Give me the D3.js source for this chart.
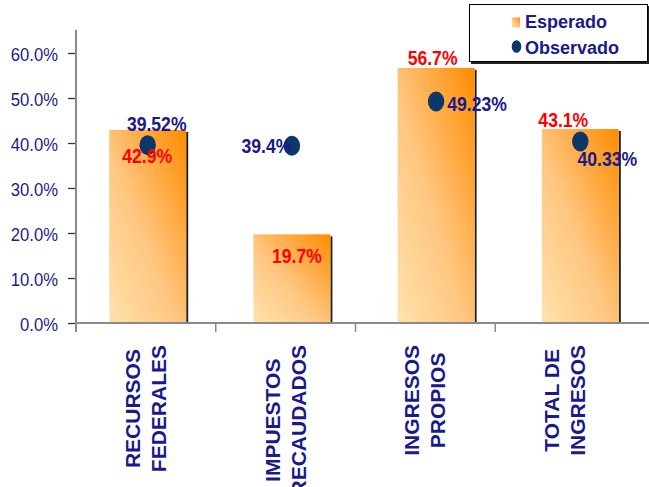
<!DOCTYPE html>
<html>
<head>
<meta charset="utf-8">
<script src="https://cdn.jsdelivr.net/npm/d3@7"></script>
<style>
  html, body { margin: 0; padding: 0; background: #fff; }
  svg { display: block; font-family: "Liberation Sans", Arial, sans-serif; }
</style>
</head>
<body>
<svg id="chart" width="649" height="487"></svg>
<script>
// ---- data ----
const categories = [["RECURSOS", "FEDERALES"], ["IMPUESTOS", "RECAUDADOS"], ["INGRESOS", "PROPIOS"], ["TOTAL DE", "INGRESOS"]];
const esperado = [42.9, 19.7, 56.7, 43.1];
const observado = [39.52, 39.4, 49.23, 40.33];
const esperadoLabels = ["42.9%", "19.7%", "56.7%", "43.1%"];
const observadoLabels = ["39.52%", "39.4%", "49.23%", "40.33%"];
const yTicks = [0, 10, 20, 30, 40, 50, 60];
const seriesNames = ["Esperado", "Observado"];

// ---- layout config (label offsets relative to mark) ----
const espOffset = [[-0.5, 33], [5, 29], [-3.5, -3], [-17, -2]];
const obsOffset = [[9, -14], [-25.5, 7], [41, 9.5], [27, 24.5]];

const navy = "#1a1a8a";
const red = "#ff0000";
const dotColor = "#0b3868";

const svg = d3.select("#chart");
const keys = categories.map((c, i) => i);

const y = d3.scaleLinear().domain([0, 60]).range([323, 53]);
const xCat = d3.scaleBand().domain(keys).range([76, 635]);
const xBar = d3.scaleBand().domain(keys).range([42, 686]).paddingInner(0.466).paddingOuter(0.466);

// gradient
const defs = svg.append("defs");
const grad = defs.append("linearGradient").attr("id", "barGrad")
  .attr("x1", 0).attr("y1", 1).attr("x2", 1).attr("y2", 0);
grad.append("stop").attr("offset", "0%").attr("stop-color", "#ffe2ad");
grad.append("stop").attr("offset", "45%").attr("stop-color", "#ffc680");
grad.append("stop").attr("offset", "100%").attr("stop-color", "#ff8c00");

const filt = defs.append("filter").attr("id", "shadow").attr("x", "-5%").attr("y", "-5%").attr("width", "120%").attr("height", "130%");
filt.append("feOffset").attr("in", "SourceAlpha").attr("dx", 2).attr("dy", 2).attr("result", "off");
filt.append("feFlood").attr("flood-color", "#222").attr("result", "fl");
filt.append("feComposite").attr("in", "fl").attr("in2", "off").attr("operator", "in").attr("result", "sh");
const fm = filt.append("feMerge");
fm.append("feMergeNode").attr("in", "sh");
fm.append("feMergeNode").attr("in", "SourceGraphic");

// bars shadow edge
svg.append("g").selectAll("rect").data(esperado).join("rect")
  .attr("x", (d, i) => xBar(i) + xBar.bandwidth())
  .attr("y", d => y(d) + 2)
  .attr("width", 2)
  .attr("height", d => y(0) - y(d) - 2)
  .attr("fill", "#1e1e1e");

// bars
svg.append("g").selectAll("rect").data(esperado).join("rect")
  .attr("x", (d, i) => xBar(i))
  .attr("y", d => y(d))
  .attr("width", xBar.bandwidth())
  .attr("height", d => y(0) - y(d))
  .attr("fill", "url(#barGrad)");

// y axis
const yAxis = svg.append("g").attr("transform", "translate(76,0)")
  .call(d3.axisLeft(y).tickValues(yTicks).tickSize(8).tickFormat(() => ""));
yAxis.select(".domain").remove();
yAxis.selectAll(".tick line").attr("stroke", "#333").attr("stroke-width", 1.3);
svg.append("line").attr("x1", 76).attr("x2", 76).attr("y1", 30).attr("y2", 332)
  .attr("stroke", "#8a8a8a").attr("stroke-width", 2);

svg.append("g").selectAll("text").data(yTicks).join("text")
  .attr("transform", d => `translate(58,${y(d) + 8}) scale(0.9,1)`)
  .attr("text-anchor", "end")
  .attr("font-size", 18.5)
  .attr("fill", navy)
  .text(d => d.toFixed(1) + "%");

// x axis
svg.append("line").attr("x1", 76).attr("x2", 649).attr("y1", y(0)).attr("y2", y(0))
  .attr("stroke", "#8a8a8a").attr("stroke-width", 2);
svg.append("g").selectAll("line").data(keys.slice(1)).join("line")
  .attr("x1", d => xCat(d)).attr("x2", d => xCat(d))
  .attr("y1", y(0)).attr("y2", y(0) + 9)
  .attr("stroke", "#8a8a8a").attr("stroke-width", 1.5);

// category labels
const catG = svg.append("g").selectAll("g").data(categories).join("g");
catG.each(function (lines, i) {
  const g = d3.select(this);
  const t = g.append("text")
    .attr("font-size", 21).attr("font-weight", "bold").attr("fill", navy)
    .attr("text-anchor", "middle");
  lines.forEach((ln, j) => {
    t.append("tspan").attr("x", 0).attr("y", j === 0 ? -6 : 20).text(ln);
  });
  let maxLen = 0;
  t.selectAll("tspan").each(function () { maxLen = Math.max(maxLen, this.getComputedTextLength()); });
  t.selectAll("tspan").attr("x", -maxLen / 2);
  g.attr("transform", `translate(${xCat(i) + xCat.bandwidth() / 2},345) rotate(-90)`);
});

// observed dots
svg.append("g").selectAll("ellipse").data(observado).join("ellipse")
  .attr("cx", (d, i) => xBar(i) + xBar.bandwidth() / 2)
  .attr("cy", d => y(d))
  .attr("rx", 8.2).attr("ry", 10)
  .attr("fill", dotColor);

// esperado labels
svg.append("g").selectAll("text").data(esperado).join("text")
  .attr("transform", (d, i) => `translate(${xBar(i) + xBar.bandwidth() / 2 + espOffset[i][0]},${y(d) + espOffset[i][1]}) scale(0.88,1)`)
  .attr("text-anchor", "middle").attr("font-size", 20).attr("font-weight", "bold")
  .attr("fill", red)
  .text((d, i) => esperadoLabels[i]);

// observado labels
svg.append("g").selectAll("text").data(observado).join("text")
  .attr("transform", (d, i) => `translate(${xBar(i) + xBar.bandwidth() / 2 + obsOffset[i][0]},${y(d) + obsOffset[i][1]}) scale(0.88,1)`)
  .attr("text-anchor", "middle").attr("font-size", 20).attr("font-weight", "bold")
  .attr("fill", navy)
  .text((d, i) => observadoLabels[i]);

// legend
const leg = svg.append("g");
leg.append("rect").attr("x", 469.5).attr("y", 4.5).attr("width", 178).attr("height", 57)
  .attr("fill", "#fff").attr("stroke", "#000").attr("stroke-width", 1)
  .attr("filter", "url(#shadow)");
leg.append("rect").attr("x", 512).attr("y", 17.5).attr("width", 8).attr("height", 10)
  .attr("fill", "url(#barGrad)");
leg.append("ellipse").attr("cx", 516.5).attr("cy", 46.5).attr("rx", 4.8).attr("ry", 6.3)
  .attr("fill", dotColor);
leg.selectAll("text.lg").data(seriesNames).join("text").attr("class", "lg")
  .attr("x", 525).attr("y", (d, i) => i === 0 ? 27.5 : 53.5)
  .attr("font-size", 18).attr("font-weight", "bold").attr("fill", navy)
  .text(d => d);
</script>
</body>
</html>
